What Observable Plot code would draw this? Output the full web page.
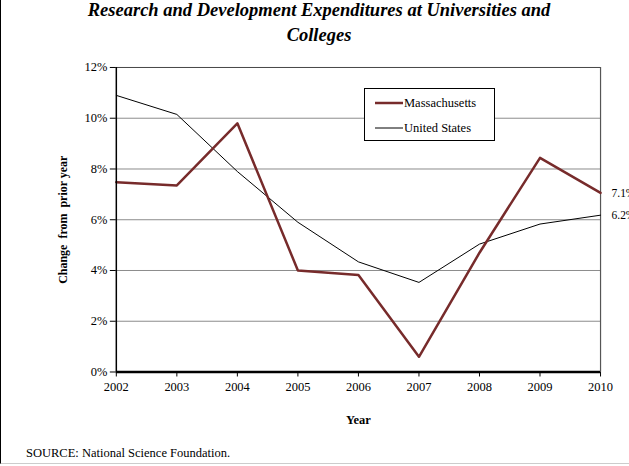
<!DOCTYPE html>
<html><head><meta charset="utf-8">
<script src="https://cdn.jsdelivr.net/npm/d3@7"></script>
<script src="https://cdn.jsdelivr.net/npm/@observablehq/plot@0.6"></script>
<style>
html,body{margin:0;padding:0;background:#fff;overflow:hidden;}
#wrap{position:relative;width:628px;height:463px;border-left:1px solid #000;border-bottom:1px solid #ccc;font-family:"Liberation Serif","Times New Roman",serif;}
#title{position:absolute;left:0;top:-2px;width:636px;text-align:center;font-weight:bold;font-style:italic;font-size:18.5px;line-height:25px;}
#chart{position:absolute;left:0;top:56px;}
#chart svg{font-family:"Liberation Serif","Times New Roman",serif !important;font-size:12.5px !important;background:transparent !important;}
#legend{position:absolute;left:363px;top:88px;width:129px;height:51px;border:1px solid #000;background:#fff;font-size:12.5px;}
#legend .row{position:absolute;left:10px;height:16px;display:flex;align-items:center;}
#legend svg{margin-right:1px;}
#source{position:absolute;left:25px;top:446px;font-size:12.5px;}
</style></head>
<body><div id="wrap">
<div id="title">Research and Development Expenditures at Universities and<br>Colleges</div>
<div id="chart"></div>
<div id="legend">
 <div class="row" style="top:6px"><svg width="28" height="4"><line x1="0" x2="28" y1="2" y2="2" stroke="#772b2b" stroke-width="2.5"/></svg>Massachusetts</div>
 <div class="row" style="top:31px"><svg width="28" height="4"><line x1="0" x2="28" y1="2" y2="2" stroke="#000" stroke-width="1"/></svg>United States</div>
</div>
<div id="source">SOURCE: National Science Foundation.</div>
</div>
<script>
const years = [2002, 2003, 2004, 2005, 2006, 2007, 2008, 2009, 2010];
const massachusetts = [7.48, 7.35, 9.8, 4.0, 3.82, 0.6, 4.7, 8.44, 7.06];
const unitedStates = [10.9, 10.15, 7.9, 5.9, 4.34, 3.53, 5.04, 5.83, 6.18];
const yTicks = [0, 2, 4, 6, 8, 10, 12];
const endLabels = ["7.1%", "6.2%"];

const ma = years.map((y, i) => ({year: y, value: massachusetts[i]}));
const us = years.map((y, i) => ({year: y, value: unitedStates[i]}));
const ends = [
  {year: 2010, value: massachusetts[8], label: endLabels[0]},
  {year: 2010, value: unitedStates[8], label: endLabels[1]}
];

const plot = Plot.plot({
  width: 629,
  height: 380,
  marginTop: 11,
  marginBottom: 64,
  marginLeft: 115,
  marginRight: 29,
  x: {domain: [2002, 2010], label: null},
  y: {domain: [0, 12], label: null},
  marks: [
    Plot.ruleY(yTicks.filter(d => d > 0 && d < 12), {stroke: "#8c8c8c", strokeWidth: 1}),
    Plot.ruleY([12], {stroke: "#444", strokeWidth: 1}),
    Plot.ruleX([2010], {stroke: "#555", strokeWidth: 1.2}),
    Plot.lineY(us, {x: "year", y: "value", stroke: "#000", strokeWidth: 1}),
    Plot.lineY(ma, {x: "year", y: "value", stroke: "#772b2b", strokeWidth: 2.5}),
    Plot.ruleX([2002], {stroke: "#000", strokeWidth: 1.5}),
    Plot.ruleY([0], {stroke: "#000", strokeWidth: 2.5}),
    Plot.axisX({ticks: years, tickFormat: d => String(d), tickSize: 5, tickPadding: 5, label: null, anchor: "bottom", fontSize: 12.5}),
    Plot.axisY({ticks: yTicks, tickFormat: d => d + "%", tickSize: 6, tickPadding: 3, label: null, anchor: "left", fontSize: 12.5}),
    Plot.text(ends, {x: "year", y: "value", text: "label", dx: 11, textAnchor: "start", fontSize: 11.5}),
    Plot.text(["Year"], {frameAnchor: "bottom", dy: 52, fontWeight: "bold", fontSize: 12.5}),
    Plot.text(["Change  from  prior year"], {frameAnchor: "left", dx: -53, rotate: -90, textAnchor: "middle", fontWeight: "bold", fontSize: 12})
  ]
});
document.getElementById("chart").appendChild(plot);
</script>
</body></html>
